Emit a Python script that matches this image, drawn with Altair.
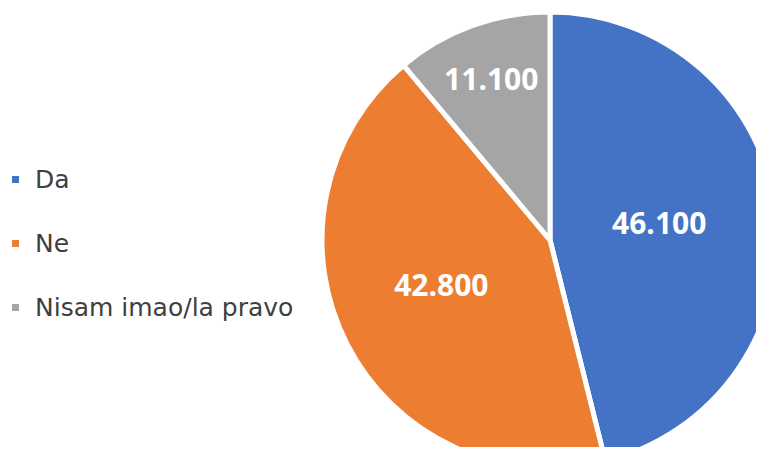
import altair as alt
import pandas as pd

categories = ["Da", "Ne", "Nisam imao/la pravo"]
values = [46.1, 42.8, 11.1]
labels = ["46.100", "42.800", "11.100"]
colors = ["#4472C4", "#ED7D31", "#A5A5A5"]

df = pd.DataFrame({"cat": categories, "val": values, "lab": labels, "idx": list(range(len(categories)))})

CX, CY = 542, 232
R = 228

base = alt.Chart(df).encode(
    theta=alt.Theta("val:Q", stack=True),
    order=alt.Order("idx:Q"),
    x=alt.value(CX),
    y=alt.value(CY),
)

pie = base.mark_arc(outerRadius=R, stroke="white", strokeWidth=5).encode(
    color=alt.Color(
        "cat:N",
        scale=alt.Scale(domain=categories, range=colors),
        sort=categories,
        legend=alt.Legend(
            title=None,
            orient="none",
            legendX=-5,
            legendY=159,
            symbolType="square",
            symbolSize=49,
            symbolStrokeWidth=0,
            labelFont="DejaVu Sans",
            labelFontSize=25,
            labelColor="#404040",
            labelLimit=0,
            rowPadding=38,
            labelOffset=7,
        ),
    )
)

label_radius = {"Da": 110, "Ne": 122, "Nisam imao/la pravo": 172}
label_dy = {"Da": -2, "Ne": -8, "Nisam imao/la pravo": 3}

texts = []
for c in categories:
    texts.append(
        base.mark_text(
            radius=label_radius[c],
            dy=label_dy[c],
            font="Open Sans",
            fontWeight="bold",
            fontSize=30,
            color="white",
            align="center",
            baseline="middle",
        ).encode(
            text="lab:N",
            opacity=alt.condition(alt.datum.cat == c, alt.value(1), alt.value(0)),
        )
    )

chart = alt.layer(pie, *texts).properties(
    width=748, height=439, autosize=alt.AutoSizeParams(type="none"), padding=0
).configure_view(strokeWidth=0)

chart.save("out.html", embed_options={"renderer": "svg", "actions": False})
